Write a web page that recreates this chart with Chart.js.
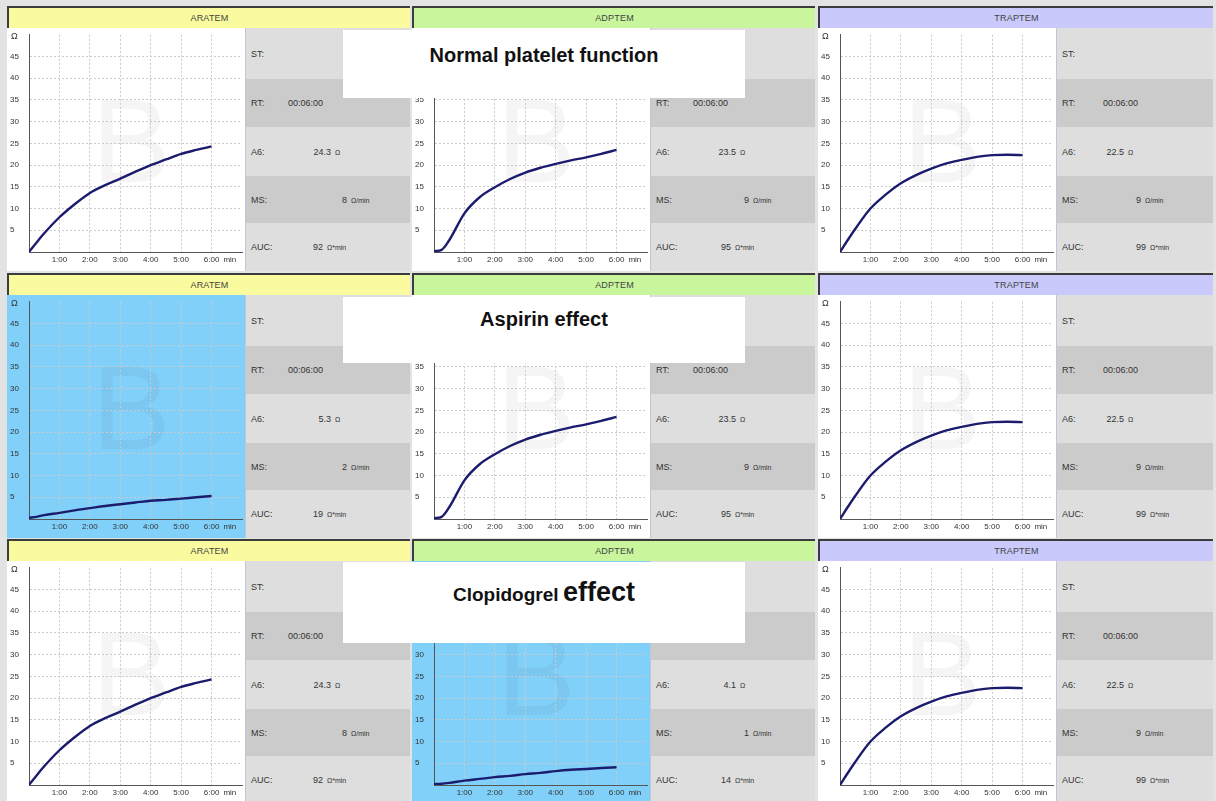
<!DOCTYPE html>
<html>
<head>
<meta charset="utf-8">
<script src="https://cdn.jsdelivr.net/npm/chart.js@4"></script>
<style>
  html, body { margin: 0; padding: 0; }
  body { width: 1216px; height: 801px; overflow: hidden; background: #e3e3e3; position: relative;
         font-family: "Liberation Sans", Arial, sans-serif; color: #333; }
  .panel { position: absolute; height: 270px; }
  .hdr { height: 20px; line-height: 20px; border-top: 2px solid #3c3c3c; border-left: 2px solid #3c3c3c;
         text-align: center; font-size: 9px; color: #444; letter-spacing: 0.2px; box-sizing: content-box; }
  .body { position: absolute; top: 22px; left: 0; right: 0; height: 243px; }
  .plot { position: absolute; left: 0; top: 0; width: 238px; height: 243px; border-right: 1px solid #c4c4d8; }
  .plot canvas { display: block; }
  .stats { position: absolute; left: 239px; right: 0; top: 0; height: 243px; }
  .srow { position: relative; }
  .srow span { position: absolute; top: 50%; transform: translateY(-50%); font-size: 9px; white-space: nowrap; }
  .srow .unit { font-size: 7px; }
  .title { position: absolute; left: 343px; width: 402px; background: #fff; z-index: 5;
           text-align: center; font-weight: bold; color: #111; }
</style>
</head>
<body>
<script>
// tijdstippen in minuten
const times = [0, 0.25, 0.5, 1, 1.5, 2, 2.5, 3, 3.5, 4, 4.5, 5, 5.5, 6];

// curves (Ohm)
const aratemNormal      = [0, 2.2, 4.3, 8.0, 11.0, 13.6, 15.4, 16.9, 18.5, 20.0, 21.3, 22.6, 23.5, 24.3];
const adptemNormal      = [0.2, 0.5, 2.7, 8.9, 12.6, 14.9, 16.8, 18.3, 19.4, 20.3, 21.1, 21.8, 22.6, 23.5];
const traptemNormal     = [0, 2.7, 5.3, 10.0, 13.2, 15.8, 17.7, 19.2, 20.4, 21.2, 21.9, 22.3, 22.4, 22.3];
const aratemAspirin     = [0.3, 0.5, 0.9, 1.4, 2.0, 2.5, 3.0, 3.4, 3.8, 4.2, 4.4, 4.7, 5.0, 5.3];
const adptemClopidogrel = [0.2, 0.3, 0.5, 1.0, 1.4, 1.8, 2.1, 2.5, 2.8, 3.2, 3.5, 3.7, 3.9, 4.1];

const xTickLabels = ['1:00', '2:00', '3:00', '4:00', '5:00', '6:00'];
const tests = ['ARATEM', 'ADPTEM', 'TRAPTEM'];
const rowTitles = ['Normal platelet function', 'Aspirin effect', 'Clopidogrel effect'];

// per rij, per kolom
const curves = [
  [aratemNormal, adptemNormal, traptemNormal],
  [aratemAspirin, adptemNormal, traptemNormal],
  [aratemNormal, adptemClopidogrel, traptemNormal]
];
const rtValues  = ['00:06:00', '00:06:00', '00:06:00'];
const a6Values  = [[24.3, 23.5, 22.5], [5.3, 23.5, 22.5], [24.3, 4.1, 22.5]];
const msValues  = [[8, 9, 9], [2, 9, 9], [8, 1, 9]];
const aucValues = [[92, 95, 99], [19, 95, 99], [92, 14, 99]];
// panelen met "afwijkend" resultaat krijgen een blauwe achtergrond
const flagged = [[false, false, false], [true, false, false], [false, true, false]];

// opmaak
const colLeft = [7, 412, 818];
const colWidth = [403, 403, 395];
const rowTop = [6, 273, 539];
const hdrColors = ['#fafa9e', '#c9f69c', '#c9c9fb'];
const numRight = [[85, 101, 77], [85, 98, 80], [67, 84, 89]]; // A6, MS, AUC
const rtLeft = [42, 42, 46];

// watermerk + Ω + "min"
const decoPlugin = {
  id: 'deco',
  beforeDraw(chart) {
    const ctx = chart.ctx;
    ctx.save();
    ctx.fillStyle = 'rgba(0,0,0,0.04)';
    ctx.font = '118px "Liberation Sans", Arial, sans-serif';
    ctx.textBaseline = 'alphabetic';
    ctx.fillText('B', 85, 154);
    ctx.restore();
  },
  afterDraw(chart) {
    const ctx = chart.ctx;
    const x = chart.scales.x;
    ctx.save();
    ctx.fillStyle = '#333';
    ctx.font = '9px "Liberation Sans", Arial, sans-serif';
    ctx.textBaseline = 'middle';
    ctx.fillText('Ω', 4, 9);
    ctx.font = '8px "Liberation Sans", Arial, sans-serif';
    ctx.textAlign = 'center';
    ctx.fillText('min', x.getPixelForValue(6.6), x.top + 8);
    ctx.restore();
  }
};

function makeChart(canvas, values) {
  return new Chart(canvas.getContext('2d'), {
    type: 'line',
    data: {
      datasets: [{
        data: times.map((t, i) => ({ x: t, y: values[i] })),
        borderColor: '#1c1c6e',
        borderWidth: 2.4,
        pointRadius: 0,
        cubicInterpolationMode: 'monotone',
        fill: false
      }]
    },
    options: {
      responsive: false,
      animation: false,
      devicePixelRatio: 1,
      layout: { padding: { top: 2, left: 3, right: 0, bottom: 0 } },
      plugins: { legend: { display: false }, tooltip: { enabled: false } },
      scales: {
        x: {
          type: 'linear', min: 0, max: 7,
          afterFit: s => { s.height = 19; },
          ticks: {
            stepSize: 1, autoSkip: false, maxRotation: 0, padding: 3,
            color: '#333', font: { size: 8, family: '"Liberation Sans", Arial, sans-serif' },
            callback: v => (v >= 1 && v <= 6) ? xTickLabels[v - 1] : ''
          },
          grid: {
            drawTicks: false,
            color: c => (c.tick.value > 0 && c.tick.value < 7) ? '#cacaca' : 'rgba(0,0,0,0)'
          },
          border: { color: '#555', width: 1, dash: [2, 2] }
        },
        y: {
          min: 0, max: 50,
          afterFit: s => { s.width = 19; },
          ticks: {
            stepSize: 5, autoSkip: false, crossAlign: 'far', padding: 2,
            color: '#333', font: { size: 8, family: '"Liberation Sans", Arial, sans-serif' },
            callback: v => (v > 0 && v < 50) ? v : ''
          },
          grid: {
            drawTicks: false,
            color: c => (c.tick.value > 0 && c.tick.value < 50) ? '#cacaca' : 'rgba(0,0,0,0)'
          },
          border: { color: '#555', width: 1, dash: [2, 2] }
        }
      }
    },
    plugins: [decoPlugin]
  });
}

function statRow(h, bg, parts) {
  const row = document.createElement('div');
  row.className = 'srow';
  row.style.height = h + 'px';
  row.style.background = bg;
  parts.forEach(p => {
    const s = document.createElement('span');
    if (p.unit) s.className = 'unit';
    s.textContent = p.text;
    if (p.right !== undefined) s.style.right = p.right + 'px';
    else s.style.left = p.left + 'px';
    row.appendChild(s);
  });
  return row;
}

for (let r = 0; r < 3; r++) {
  for (let c = 0; c < 3; c++) {
    const panel = document.createElement('div');
    panel.className = 'panel';
    panel.style.left = colLeft[c] + 'px';
    panel.style.top = rowTop[r] + 'px';
    panel.style.width = colWidth[c] + 'px';

    const hdr = document.createElement('div');
    hdr.className = 'hdr';
    hdr.style.background = hdrColors[c];
    hdr.textContent = tests[c];
    panel.appendChild(hdr);

    const body = document.createElement('div');
    body.className = 'body';
    const plot = document.createElement('div');
    plot.className = 'plot';
    plot.style.background = flagged[r][c] ? '#80d0f9' : '#ffffff';
    const canvas = document.createElement('canvas');
    canvas.width = 238; canvas.height = 243;
    plot.appendChild(canvas);
    body.appendChild(plot);

    const statsW = colWidth[c] - 239;
    const stats = document.createElement('div');
    stats.className = 'stats';
    const nr = numRight[c];
    stats.appendChild(statRow(51, '#dedede', [{ text: 'ST:', left: 5 }]));
    stats.appendChild(statRow(48, '#cbcbcb', [{ text: 'RT:', left: 5 }, { text: rtValues[r], left: rtLeft[c] }]));
    stats.appendChild(statRow(49, '#dedede', [
      { text: 'A6:', left: 5 },
      { text: a6Values[r][c].toFixed(1), right: statsW - nr[0] },
      { text: 'Ω', left: nr[0] + 4, unit: true }]));
    stats.appendChild(statRow(47, '#cbcbcb', [
      { text: 'MS:', left: 5 },
      { text: String(msValues[r][c]), right: statsW - nr[1] },
      { text: 'Ω/min', left: nr[1] + 4, unit: true }]));
    stats.appendChild(statRow(48, '#dedede', [
      { text: 'AUC:', left: 5 },
      { text: String(aucValues[r][c]), right: statsW - nr[2] },
      { text: 'Ω*min', left: nr[2] + 4, unit: true }]));
    body.appendChild(stats);
    panel.appendChild(body);
    document.body.appendChild(panel);

    makeChart(canvas, curves[r][c]);
  }
}

// titels over de panelen
const titleBoxes = [
  { top: 30, height: 68, pad: 14, html: '<span style="font-size:20px">' + rowTitles[0] + '</span>' },
  { top: 297, height: 66, pad: 11, html: '<span style="font-size:20px">' + rowTitles[1] + '</span>' },
  { top: 562, height: 81, pad: 15, html: '<span style="font-size:19px">' + rowTitles[2].split(' ')[0] +
      '</span> <span style="font-size:27px">' + rowTitles[2].split(' ')[1] + '</span>' }
];
titleBoxes.forEach(b => {
  const d = document.createElement('div');
  d.className = 'title';
  d.style.top = b.top + 'px';
  d.style.height = (b.height - b.pad) + 'px';
  d.style.paddingTop = b.pad + 'px';
  d.innerHTML = b.html;
  document.body.appendChild(d);
});
</script>
</body>
</html>
